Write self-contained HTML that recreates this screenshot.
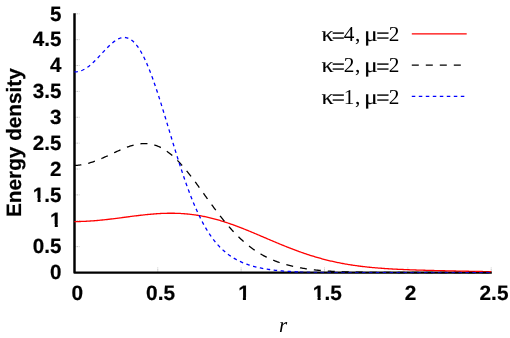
<!DOCTYPE html>
<html><head><meta charset="utf-8"><title>Energy density</title>
<style>
html,body{margin:0;padding:0;background:#fff;}
body{width:510px;height:338px;overflow:hidden;}
svg{display:block;text-rendering:geometricPrecision;will-change:transform;}
.sb{font-family:"Liberation Sans",sans-serif;font-weight:bold;fill:#000;stroke:#000;stroke-width:0.2px;}
.se{font-family:"Liberation Serif",serif;fill:#000;}
</style></head><body>
<svg width="510" height="338" viewBox="0 0 510 338">
<rect x="0" y="0" width="510" height="338" fill="#fff"/>
<g stroke="#666" stroke-width="0.5" stroke-dasharray="1 0.8" fill="none">
<path d="M75.40,246.63 h4"/>
<path d="M75.40,220.76 h4"/>
<path d="M75.40,194.89 h4"/>
<path d="M75.40,169.02 h4"/>
<path d="M75.40,143.15 h4"/>
<path d="M75.40,117.28 h4"/>
<path d="M75.40,91.41 h4"/>
<path d="M75.40,65.54 h4"/>
<path d="M75.40,39.67 h4"/>
<path d="M75.40,13.80 h4"/>
<path d="M157.76,271.50 v-4"/>
<path d="M241.12,271.50 v-4"/>
<path d="M324.48,271.50 v-4"/>
<path d="M407.84,271.50 v-4"/>
<path d="M491.20,271.50 v-4"/>
</g>
<path d="M74.5,13.2 V272.6 H491.8" fill="none" stroke="#000" stroke-width="2.45" stroke-linejoin="round"/>
<path d="M74.40,221.58 L75.39,221.58 L76.38,221.57 L77.37,221.56 L78.36,221.54 L79.35,221.52 L80.34,221.50 L81.33,221.47 L82.32,221.43 L83.31,221.40 L84.30,221.35 L85.29,221.31 L86.28,221.26 L87.27,221.21 L88.26,221.15 L89.25,221.09 L90.24,221.02 L91.23,220.96 L92.22,220.89 L93.21,220.81 L94.20,220.74 L95.19,220.66 L96.18,220.57 L97.17,220.49 L98.16,220.40 L99.15,220.31 L100.14,220.21 L101.13,220.11 L102.12,220.02 L103.11,219.91 L104.10,219.81 L105.09,219.70 L106.08,219.59 L107.07,219.48 L108.06,219.37 L109.05,219.26 L110.04,219.14 L111.03,219.02 L112.02,218.90 L113.01,218.78 L114.00,218.66 L114.99,218.54 L115.98,218.41 L116.97,218.29 L117.96,218.16 L118.95,218.03 L119.94,217.90 L120.93,217.77 L121.92,217.64 L122.91,217.51 L123.90,217.38 L124.89,217.25 L125.88,217.12 L126.87,216.99 L127.86,216.87 L128.85,216.74 L129.84,216.61 L130.83,216.48 L131.82,216.35 L132.81,216.22 L133.80,216.10 L134.79,215.97 L135.78,215.85 L136.77,215.73 L137.76,215.61 L138.75,215.49 L139.74,215.37 L140.73,215.26 L141.72,215.14 L142.71,215.03 L143.70,214.92 L144.69,214.81 L145.68,214.71 L146.67,214.61 L147.66,214.51 L148.65,214.41 L149.64,214.32 L150.63,214.23 L151.62,214.14 L152.61,214.06 L153.60,213.98 L154.59,213.90 L155.58,213.83 L156.57,213.76 L157.56,213.69 L158.55,213.63 L159.54,213.57 L160.53,213.52 L161.52,213.47 L162.51,213.42 L163.50,213.38 L164.49,213.35 L165.48,213.32 L166.47,213.29 L167.46,213.27 L168.45,213.25 L169.44,213.24 L170.43,213.23 L171.42,213.23 L172.41,213.24 L173.40,213.25 L174.39,213.26 L175.38,213.28 L176.37,213.31 L177.36,213.34 L178.35,213.38 L179.34,213.42 L180.33,213.47 L181.32,213.53 L182.31,213.59 L183.30,213.65 L184.29,213.73 L185.28,213.81 L186.27,213.89 L187.26,213.98 L188.25,214.08 L189.24,214.18 L190.23,214.29 L191.22,214.41 L192.21,214.53 L193.20,214.66 L194.19,214.80 L195.18,214.94 L196.17,215.09 L197.16,215.24 L198.15,215.40 L199.14,215.57 L200.13,215.74 L201.12,215.92 L202.11,216.11 L203.10,216.30 L204.09,216.49 L205.08,216.70 L206.07,216.91 L207.06,217.13 L208.05,217.35 L209.04,217.58 L210.03,217.81 L211.02,218.05 L212.01,218.30 L213.00,218.55 L213.99,218.81 L214.98,219.07 L215.97,219.34 L216.96,219.62 L217.95,219.90 L218.94,220.19 L219.93,220.48 L220.92,220.78 L221.91,221.08 L222.90,221.39 L223.89,221.70 L224.88,222.02 L225.87,222.34 L226.86,222.67 L227.85,223.00 L228.84,223.33 L229.83,223.68 L230.82,224.02 L231.81,224.37 L232.80,224.73 L233.79,225.08 L234.78,225.45 L235.77,225.81 L236.76,226.18 L237.75,226.55 L238.74,226.93 L239.73,227.31 L240.72,227.70 L241.71,228.08 L242.70,228.47 L243.69,228.86 L244.68,229.26 L245.67,229.66 L246.66,230.06 L247.65,230.46 L248.64,230.87 L249.63,231.27 L250.62,231.68 L251.61,232.09 L252.60,232.51 L253.59,232.92 L254.58,233.34 L255.57,233.75 L256.56,234.17 L257.55,234.59 L258.54,235.01 L259.53,235.43 L260.52,235.85 L261.51,236.28 L262.50,236.70 L263.49,237.12 L264.48,237.55 L265.47,237.97 L266.46,238.39 L267.45,238.82 L268.44,239.24 L269.43,239.66 L270.42,240.08 L271.41,240.50 L272.40,240.92 L273.39,241.34 L274.38,241.76 L275.37,242.18 L276.36,242.59 L277.35,243.00 L278.34,243.42 L279.33,243.83 L280.32,244.24 L281.31,244.64 L282.30,245.05 L283.30,245.45 L284.29,245.85 L285.28,246.25 L286.27,246.65 L287.26,247.04 L288.25,247.44 L289.24,247.82 L290.23,248.21 L291.22,248.59 L292.21,248.97 L293.20,249.35 L294.19,249.73 L295.18,250.10 L296.17,250.47 L297.16,250.83 L298.15,251.19 L299.14,251.55 L300.13,251.91 L301.12,252.26 L302.11,252.61 L303.10,252.95 L304.09,253.29 L305.08,253.63 L306.07,253.96 L307.06,254.29 L308.05,254.62 L309.04,254.94 L310.03,255.26 L311.02,255.57 L312.01,255.88 L313.00,256.19 L313.99,256.49 L314.98,256.79 L315.97,257.08 L316.96,257.37 L317.95,257.66 L318.94,257.94 L319.93,258.22 L320.92,258.49 L321.91,258.76 L322.90,259.03 L323.89,259.29 L324.88,259.55 L325.87,259.80 L326.86,260.05 L327.85,260.30 L328.84,260.54 L329.83,260.77 L330.82,261.01 L331.81,261.24 L332.80,261.46 L333.79,261.68 L334.78,261.90 L335.77,262.11 L336.76,262.32 L337.75,262.53 L338.74,262.73 L339.73,262.92 L340.72,263.12 L341.71,263.31 L342.70,263.49 L343.69,263.68 L344.68,263.85 L345.67,264.03 L346.66,264.20 L347.65,264.37 L348.64,264.53 L349.63,264.69 L350.62,264.85 L351.61,265.00 L352.60,265.15 L353.59,265.30 L354.58,265.45 L355.57,265.59 L356.56,265.72 L357.55,265.86 L358.54,265.99 L359.53,266.12 L360.52,266.24 L361.51,266.36 L362.50,266.48 L363.49,266.60 L364.48,266.71 L365.47,266.83 L366.46,266.93 L367.45,267.04 L368.44,267.14 L369.43,267.24 L370.42,267.34 L371.41,267.44 L372.40,267.53 L373.39,267.62 L374.38,267.71 L375.37,267.80 L376.36,267.88 L377.35,267.96 L378.34,268.04 L379.33,268.12 L380.32,268.20 L381.31,268.27 L382.30,268.34 L383.29,268.42 L384.28,268.48 L385.27,268.55 L386.26,268.62 L387.25,268.68 L388.24,268.74 L389.23,268.80 L390.22,268.86 L391.21,268.92 L392.20,268.98 L393.19,269.03 L394.18,269.08 L395.17,269.14 L396.16,269.19 L397.15,269.24 L398.14,269.29 L399.13,269.33 L400.12,269.38 L401.11,269.42 L402.10,269.47 L403.09,269.51 L404.08,269.55 L405.07,269.59 L406.06,269.63 L407.05,269.67 L408.04,269.71 L409.03,269.75 L410.02,269.79 L411.01,269.82 L412.00,269.86 L412.99,269.89 L413.98,269.93 L414.97,269.96 L415.96,270.00 L416.95,270.03 L417.94,270.06 L418.93,270.09 L419.92,270.12 L420.91,270.15 L421.90,270.18 L422.89,270.21 L423.88,270.24 L424.87,270.27 L425.86,270.30 L426.85,270.32 L427.84,270.35 L428.83,270.38 L429.82,270.40 L430.81,270.43 L431.80,270.46 L432.79,270.48 L433.78,270.51 L434.77,270.53 L435.76,270.56 L436.75,270.58 L437.74,270.61 L438.73,270.63 L439.72,270.65 L440.71,270.68 L441.70,270.70 L442.69,270.72 L443.68,270.75 L444.67,270.77 L445.66,270.79 L446.65,270.81 L447.64,270.84 L448.63,270.86 L449.62,270.88 L450.61,270.90 L451.60,270.92 L452.59,270.94 L453.58,270.97 L454.57,270.99 L455.56,271.01 L456.55,271.03 L457.54,271.05 L458.53,271.07 L459.52,271.09 L460.51,271.11 L461.50,271.13 L462.49,271.15 L463.48,271.17 L464.47,271.19 L465.46,271.21 L466.45,271.23 L467.44,271.25 L468.43,271.27 L469.42,271.28 L470.41,271.30 L471.40,271.32 L472.39,271.34 L473.38,271.36 L474.37,271.38 L475.36,271.39 L476.35,271.41 L477.34,271.43 L478.33,271.45 L479.32,271.47 L480.31,271.48 L481.30,271.50 L482.29,271.52 L483.28,271.53 L484.27,271.55 L485.26,271.57 L486.25,271.58 L487.24,271.60 L488.23,271.62 L489.22,271.63 L490.21,271.65 L491.20,271.66" fill="none" stroke="#ff0000" stroke-width="1.3"/>
<path d="M74.40,165.39 L75.39,165.38 L76.38,165.34 L77.37,165.28 L78.36,165.19 L79.35,165.09 L80.34,164.96 L81.33,164.82 L82.32,164.65 L83.31,164.47 L84.30,164.27 L85.29,164.05 L86.28,163.82 L87.27,163.57 L88.26,163.31 L89.25,163.03 L90.24,162.73 L91.23,162.43 L92.22,162.11 L93.21,161.77 L94.20,161.42 L95.19,161.07 L96.18,160.70 L97.17,160.32 L98.16,159.92 L99.15,159.52 L100.14,159.12 L101.13,158.70 L102.12,158.27 L103.11,157.84 L104.10,157.40 L105.09,156.96 L106.08,156.51 L107.07,156.05 L108.06,155.60 L109.05,155.13 L110.04,154.67 L111.03,154.21 L112.02,153.74 L113.01,153.28 L114.00,152.81 L114.99,152.35 L115.98,151.89 L116.97,151.44 L117.96,150.98 L118.95,150.54 L119.94,150.10 L120.93,149.66 L121.92,149.24 L122.91,148.82 L123.90,148.41 L124.89,148.01 L125.88,147.63 L126.87,147.25 L127.86,146.89 L128.85,146.54 L129.84,146.21 L130.83,145.89 L131.82,145.59 L132.81,145.31 L133.80,145.04 L134.79,144.80 L135.78,144.57 L136.77,144.37 L137.76,144.18 L138.75,144.02 L139.74,143.89 L140.73,143.77 L141.72,143.68 L142.71,143.62 L143.70,143.58 L144.69,143.57 L145.68,143.59 L146.67,143.63 L147.66,143.70 L148.65,143.81 L149.64,143.94 L150.63,144.10 L151.62,144.29 L152.61,144.51 L153.60,144.77 L154.59,145.05 L155.58,145.37 L156.57,145.72 L157.56,146.10 L158.55,146.51 L159.54,146.95 L160.53,147.43 L161.52,147.94 L162.51,148.48 L163.50,149.06 L164.49,149.66 L165.48,150.30 L166.47,150.97 L167.46,151.68 L168.45,152.41 L169.44,153.17 L170.43,153.97 L171.42,154.79 L172.41,155.65 L173.40,156.53 L174.39,157.44 L175.38,158.38 L176.37,159.35 L177.36,160.34 L178.35,161.36 L179.34,162.41 L180.33,163.48 L181.32,164.57 L182.31,165.69 L183.30,166.83 L184.29,167.99 L185.28,169.17 L186.27,170.37 L187.26,171.59 L188.25,172.82 L189.24,174.07 L190.23,175.34 L191.22,176.62 L192.21,177.92 L193.20,179.23 L194.19,180.55 L195.18,181.88 L196.17,183.22 L197.16,184.57 L198.15,185.92 L199.14,187.28 L200.13,188.65 L201.12,190.02 L202.11,191.40 L203.10,192.77 L204.09,194.15 L205.08,195.53 L206.07,196.91 L207.06,198.28 L208.05,199.66 L209.04,201.03 L210.03,202.39 L211.02,203.75 L212.01,205.11 L213.00,206.46 L213.99,207.80 L214.98,209.13 L215.97,210.45 L216.96,211.76 L217.95,213.06 L218.94,214.35 L219.93,215.63 L220.92,216.90 L221.91,218.15 L222.90,219.39 L223.89,220.62 L224.88,221.83 L225.87,223.02 L226.86,224.20 L227.85,225.37 L228.84,226.51 L229.83,227.65 L230.82,228.76 L231.81,229.86 L232.80,230.94 L233.79,232.00 L234.78,233.04 L235.77,234.07 L236.76,235.08 L237.75,236.07 L238.74,237.04 L239.73,238.00 L240.72,238.93 L241.71,239.85 L242.70,240.75 L243.69,241.63 L244.68,242.49 L245.67,243.33 L246.66,244.16 L247.65,244.96 L248.64,245.75 L249.63,246.53 L250.62,247.28 L251.61,248.02 L252.60,248.74 L253.59,249.44 L254.58,250.12 L255.57,250.79 L256.56,251.45 L257.55,252.08 L258.54,252.70 L259.53,253.31 L260.52,253.90 L261.51,254.47 L262.50,255.03 L263.49,255.57 L264.48,256.10 L265.47,256.62 L266.46,257.12 L267.45,257.61 L268.44,258.08 L269.43,258.55 L270.42,258.99 L271.41,259.43 L272.40,259.86 L273.39,260.27 L274.38,260.67 L275.37,261.06 L276.36,261.44 L277.35,261.80 L278.34,262.16 L279.33,262.51 L280.32,262.84 L281.31,263.17 L282.30,263.49 L283.30,263.79 L284.29,264.09 L285.28,264.38 L286.27,264.66 L287.26,264.94 L288.25,265.20 L289.24,265.46 L290.23,265.71 L291.22,265.95 L292.21,266.18 L293.20,266.41 L294.19,266.63 L295.18,266.84 L296.17,267.05 L297.16,267.25 L298.15,267.44 L299.14,267.63 L300.13,267.81 L301.12,267.98 L302.11,268.15 L303.10,268.32 L304.09,268.48 L305.08,268.63 L306.07,268.78 L307.06,268.93 L308.05,269.06 L309.04,269.20 L310.03,269.33 L311.02,269.46 L312.01,269.58 L313.00,269.70 L313.99,269.81 L314.98,269.92 L315.97,270.03 L316.96,270.13 L317.95,270.23 L318.94,270.32 L319.93,270.41 L320.92,270.50 L321.91,270.59 L322.90,270.67 L323.89,270.75 L324.88,270.83 L325.87,270.90 L326.86,270.97 L327.85,271.04 L328.84,271.10 L329.83,271.17 L330.82,271.23 L331.81,271.29 L332.80,271.34 L333.79,271.40 L334.78,271.45 L335.77,271.50 L336.76,271.55 L337.75,271.59 L338.74,271.64 L339.73,271.68 L340.72,271.72 L341.71,271.76 L342.70,271.79 L343.69,271.83 L344.68,271.86 L345.67,271.90 L346.66,271.93 L347.65,271.96 L348.64,271.98 L349.63,272.01 L350.62,272.04 L351.61,272.06 L352.60,272.08 L353.59,272.11 L354.58,272.13 L355.57,272.15 L356.56,272.17 L357.55,272.19 L358.54,272.20 L359.53,272.22 L360.52,272.24 L361.51,272.25 L362.50,272.27 L363.49,272.28 L364.48,272.29 L365.47,272.30 L366.46,272.32 L367.45,272.33 L368.44,272.34 L369.43,272.35 L370.42,272.36 L371.41,272.36 L372.40,272.37 L373.39,272.38 L374.38,272.39 L375.37,272.39 L376.36,272.40 L377.35,272.41 L378.34,272.41 L379.33,272.42 L380.32,272.42 L381.31,272.43 L382.30,272.43 L383.29,272.44 L384.28,272.44 L385.27,272.45 L386.26,272.45 L387.25,272.45 L388.24,272.46 L389.23,272.46 L390.22,272.46 L391.21,272.46 L392.20,272.47 L393.19,272.47 L394.18,272.47 L395.17,272.47 L396.16,272.48 L397.15,272.48 L398.14,272.48 L399.13,272.48 L400.12,272.48 L401.11,272.48 L402.10,272.48 L403.09,272.49 L404.08,272.49 L405.07,272.49 L406.06,272.49 L407.05,272.49 L408.04,272.49 L409.03,272.49 L410.02,272.49 L411.01,272.49 L412.00,272.49 L412.99,272.49 L413.98,272.49 L414.97,272.49 L415.96,272.49 L416.95,272.50 L417.94,272.50 L418.93,272.50 L419.92,272.50 L420.91,272.50 L421.90,272.50 L422.89,272.50 L423.88,272.50 L424.87,272.50 L425.86,272.50 L426.85,272.50 L427.84,272.50 L428.83,272.50 L429.82,272.50 L430.81,272.50 L431.80,272.50 L432.79,272.50 L433.78,272.50 L434.77,272.50 L435.76,272.50 L436.75,272.50 L437.74,272.50 L438.73,272.50 L439.72,272.50 L440.71,272.50 L441.70,272.50 L442.69,272.50 L443.68,272.50 L444.67,272.50 L445.66,272.50 L446.65,272.50 L447.64,272.50 L448.63,272.50 L449.62,272.50 L450.61,272.50 L451.60,272.50 L452.59,272.50 L453.58,272.50 L454.57,272.50 L455.56,272.50 L456.55,272.50 L457.54,272.50 L458.53,272.50 L459.52,272.50 L460.51,272.50 L461.50,272.50 L462.49,272.50 L463.48,272.50 L464.47,272.50 L465.46,272.50 L466.45,272.50 L467.44,272.50 L468.43,272.50 L469.42,272.50 L470.41,272.50 L471.40,272.50 L472.39,272.50 L473.38,272.50 L474.37,272.50 L475.36,272.50 L476.35,272.50 L477.34,272.50 L478.33,272.50 L479.32,272.50 L480.31,272.50 L481.30,272.50 L482.29,272.50 L483.28,272.50 L484.27,272.50 L485.26,272.50 L486.25,272.50 L487.24,272.50 L488.23,272.50 L489.22,272.50 L490.21,272.50 L491.20,272.50" fill="none" stroke="#000" stroke-width="1.3" stroke-dasharray="7 7"/>
<path d="M74.40,71.92 L75.39,71.90 L76.38,71.83 L77.37,71.70 L78.36,71.52 L79.35,71.29 L80.33,70.99 L81.32,70.64 L82.31,70.24 L83.30,69.78 L84.29,69.26 L85.28,68.69 L86.27,68.08 L87.26,67.41 L88.25,66.69 L89.24,65.93 L90.22,65.13 L91.21,64.28 L92.20,63.40 L93.19,62.48 L94.18,61.53 L95.17,60.55 L96.16,59.55 L97.15,58.53 L98.14,57.49 L99.13,56.43 L100.11,55.36 L101.10,54.29 L102.09,53.21 L103.08,52.14 L104.07,51.07 L105.06,50.01 L106.05,48.96 L107.04,47.94 L108.03,46.93 L109.02,45.96 L110.01,45.01 L110.99,44.10 L111.98,43.24 L112.97,42.41 L113.96,41.64 L114.95,40.92 L115.94,40.25 L116.93,39.65 L117.92,39.12 L118.91,38.65 L119.90,38.25 L120.88,37.93 L121.87,37.69 L122.86,37.54 L123.85,37.47 L124.84,37.48 L125.83,37.59 L126.82,37.79 L127.81,38.09 L128.80,38.49 L129.79,38.98 L130.78,39.58 L131.76,40.28 L132.75,41.08 L133.74,41.99 L134.73,43.00 L135.72,44.11 L136.71,45.33 L137.70,46.65 L138.69,48.08 L139.68,49.61 L140.67,51.25 L141.65,52.98 L142.64,54.81 L143.63,56.74 L144.62,58.77 L145.61,60.88 L146.60,63.09 L147.59,65.39 L148.58,67.77 L149.57,70.23 L150.56,72.77 L151.54,75.39 L152.53,78.08 L153.52,80.84 L154.51,83.66 L155.50,86.54 L156.49,89.48 L157.48,92.47 L158.47,95.51 L159.46,98.59 L160.45,101.71 L161.44,104.87 L162.42,108.06 L163.41,111.28 L164.40,114.52 L165.39,117.77 L166.38,121.04 L167.37,124.33 L168.36,127.61 L169.35,130.90 L170.34,134.19 L171.33,137.47 L172.31,140.74 L173.30,143.99 L174.29,147.23 L175.28,150.45 L176.27,153.65 L177.26,156.82 L178.25,159.96 L179.24,163.06 L180.23,166.13 L181.22,169.17 L182.20,172.16 L183.19,175.11 L184.18,178.01 L185.17,180.87 L186.16,183.68 L187.15,186.44 L188.14,189.15 L189.13,191.81 L190.12,194.41 L191.11,196.96 L192.10,199.45 L193.08,201.88 L194.07,204.26 L195.06,206.58 L196.05,208.85 L197.04,211.05 L198.03,213.20 L199.02,215.29 L200.01,217.33 L201.00,219.30 L201.99,221.22 L202.97,223.09 L203.96,224.90 L204.95,226.65 L205.94,228.35 L206.93,229.99 L207.92,231.58 L208.91,233.12 L209.90,234.61 L210.89,236.05 L211.88,237.45 L212.86,238.79 L213.85,240.09 L214.84,241.34 L215.83,242.55 L216.82,243.71 L217.81,244.83 L218.80,245.91 L219.79,246.96 L220.78,247.96 L221.77,248.93 L222.76,249.86 L223.74,250.75 L224.73,251.61 L225.72,252.44 L226.71,253.24 L227.70,254.01 L228.69,254.75 L229.68,255.45 L230.67,256.14 L231.66,256.79 L232.65,257.42 L233.63,258.03 L234.62,258.61 L235.61,259.17 L236.60,259.71 L237.59,260.23 L238.58,260.73 L239.57,261.21 L240.56,261.67 L241.55,262.11 L242.54,262.54 L243.53,262.95 L244.51,263.34 L245.50,263.72 L246.49,264.09 L247.48,264.44 L248.47,264.77 L249.46,265.10 L250.45,265.41 L251.44,265.71 L252.43,266.00 L253.42,266.28 L254.40,266.54 L255.39,266.80 L256.38,267.05 L257.37,267.28 L258.36,267.51 L259.35,267.73 L260.34,267.94 L261.33,268.15 L262.32,268.34 L263.31,268.53 L264.29,268.71 L265.28,268.88 L266.27,269.05 L267.26,269.21 L268.25,269.36 L269.24,269.51 L270.23,269.65 L271.22,269.79 L272.21,269.92 L273.20,270.04 L274.19,270.16 L275.17,270.28 L276.16,270.39 L277.15,270.49 L278.14,270.59 L279.13,270.69 L280.12,270.78 L281.11,270.87 L282.10,270.95 L283.09,271.03 L284.08,271.11 L285.06,271.19 L286.05,271.26 L287.04,271.32 L288.03,271.39 L289.02,271.45 L290.01,271.51 L291.00,271.56 L291.99,271.61 L292.98,271.66 L293.97,271.71 L294.95,271.76 L295.94,271.80 L296.93,271.84 L297.92,271.88 L298.91,271.92 L299.90,271.95" fill="none" stroke="#0000ff" stroke-width="1.3" stroke-dasharray="3.5 3.5"/>
<path d="M299.90,271.95 L300.89,271.98 L301.88,272.02 L302.87,272.05 L303.86,272.07 L304.85,272.10 L305.84,272.12 L306.82,272.15 L307.81,272.17 L308.80,272.19 L309.79,272.21 L310.78,272.23 L311.77,272.25 L312.76,272.26 L313.75,272.28 L314.74,272.30 L315.73,272.31 L316.72,272.32 L317.71,272.33 L318.69,272.35 L319.68,272.36 L320.67,272.37 L321.66,272.38 L322.65,272.38 L323.64,272.39 L324.63,272.40 L325.62,272.41 L326.61,272.41 L327.60,272.42 L328.59,272.43 L329.58,272.43 L330.56,272.44 L331.55,272.44 L332.54,272.45 L333.53,272.45 L334.52,272.45 L335.51,272.46 L336.50,272.46 L337.49,272.46 L338.48,272.47 L339.47,272.47 L340.46,272.47 L341.45,272.47 L342.43,272.48 L343.42,272.48 L344.41,272.48 L345.40,272.48 L346.39,272.48 L347.38,272.48 L348.37,272.49 L349.36,272.49 L350.35,272.49 L351.34,272.49 L352.33,272.49 L353.32,272.49 L354.30,272.49 L355.29,272.49 L356.28,272.49 L357.27,272.49 L358.26,272.49 L359.25,272.49 L360.24,272.50 L361.23,272.50 L362.22,272.50 L363.21,272.50 L364.20,272.50 L365.19,272.50 L366.17,272.50 L367.16,272.50 L368.15,272.50 L369.14,272.50 L370.13,272.50 L371.12,272.50 L372.11,272.50 L373.10,272.50 L374.09,272.50 L375.08,272.50 L376.07,272.50 L377.06,272.50 L378.04,272.50 L379.03,272.50 L380.02,272.50 L381.01,272.50 L382.00,272.50 L382.99,272.50 L383.98,272.50 L384.97,272.50 L385.96,272.50 L386.95,272.50 L387.94,272.50 L388.93,272.50 L389.91,272.50 L390.90,272.50 L391.89,272.50 L392.88,272.50 L393.87,272.50 L394.86,272.50 L395.85,272.50 L396.84,272.50 L397.83,272.50 L398.82,272.50 L399.81,272.50 L400.80,272.50 L401.79,272.50 L402.77,272.50 L403.76,272.50 L404.75,272.50 L405.74,272.50 L406.73,272.50 L407.72,272.50 L408.71,272.50 L409.70,272.50 L410.69,272.50 L411.68,272.50 L412.67,272.50 L413.66,272.50 L414.64,272.50 L415.63,272.50 L416.62,272.50 L417.61,272.50 L418.60,272.50 L419.59,272.50 L420.58,272.50 L421.57,272.50 L422.56,272.50 L423.55,272.50 L424.54,272.50 L425.53,272.50 L426.51,272.50 L427.50,272.50 L428.49,272.50 L429.48,272.50 L430.47,272.50 L431.46,272.50 L432.45,272.50 L433.44,272.50 L434.43,272.50 L435.42,272.50 L436.41,272.50 L437.40,272.50 L438.38,272.50 L439.37,272.50 L440.36,272.50 L441.35,272.50 L442.34,272.50 L443.33,272.50 L444.32,272.50 L445.31,272.50 L446.30,272.50 L447.29,272.50 L448.28,272.50 L449.27,272.50 L450.25,272.50 L451.24,272.50 L452.23,272.50 L453.22,272.50 L454.21,272.50 L455.20,272.50 L456.19,272.50 L457.18,272.50 L458.17,272.50 L459.16,272.50 L460.15,272.50 L461.14,272.50 L462.12,272.50 L463.11,272.50 L464.10,272.50 L465.09,272.50 L466.08,272.50 L467.07,272.50 L468.06,272.50 L469.05,272.50 L470.04,272.50 L471.03,272.50 L472.02,272.50 L473.01,272.50 L473.99,272.50 L474.98,272.50 L475.97,272.50 L476.96,272.50 L477.95,272.50 L478.94,272.50 L479.93,272.50 L480.92,272.50 L481.91,272.50 L482.90,272.50 L483.89,272.50 L484.88,272.50 L485.86,272.50 L486.85,272.50 L487.84,272.50 L488.83,272.50 L489.82,272.50 L490.81,272.50 L491.80,272.50" fill="none" stroke="#0000d8" stroke-width="1.0" stroke-dasharray="3.45 3.45"/>
<g class="sb" font-size="20.6" text-anchor="end">
<text x="61.5" y="279.20">0</text>
<text x="61.5" y="253.33">0.5</text>
<text x="61.5" y="227.46">1</text>
<text x="61.5" y="201.59">1.5</text>
<text x="61.5" y="175.72">2</text>
<text x="61.5" y="149.85">2.5</text>
<text x="61.5" y="123.98">3</text>
<text x="61.5" y="98.11">3.5</text>
<text x="61.5" y="72.24">4</text>
<text x="61.5" y="46.37">4.5</text>
<text x="61.5" y="20.50">5</text>
</g>
<g class="sb" font-size="20.8" text-anchor="middle">
<text x="77.20" y="300.1">0</text>
<text x="160.56" y="300.1">0.5</text>
<text x="243.92" y="300.1">1</text>
<text x="327.28" y="300.1">1.5</text>
<text x="410.64" y="300.1">2</text>
<text x="494.00" y="300.1">2.5</text>
</g>
<rect x="50" y="224" width="4.75" height="5" fill="#fff"/><rect x="57.78" y="224" width="4.22" height="5" fill="#fff"/>
<rect x="33" y="198" width="4.57" height="5" fill="#fff"/><rect x="40.60" y="198" width="4.40" height="5" fill="#fff"/>
<rect x="238" y="297" width="4.89" height="4" fill="#fff"/><rect x="245.94" y="297" width="4.06" height="4" fill="#fff"/>
<rect x="313" y="297" width="4.58" height="4" fill="#fff"/><rect x="320.63" y="297" width="4.37" height="4" fill="#fff"/>
<text class="sb" font-size="20.75" text-anchor="middle" transform="translate(20.6,142.6) rotate(-90)">Energy density</text>
<text class="se" font-style="italic" font-size="21" text-anchor="middle" x="283.0" y="332">r</text>
<g class="se" font-size="21.3">
<g transform="translate(0,41)"><text transform="translate(321.45,0.00) scale(1.13,1)" stroke="#000" stroke-width="0.15">κ</text><text transform="translate(331.71,2.60) scale(1.09,1.19)" stroke="#000" stroke-width="0.2">=</text><text transform="translate(343.85,0.00)">4</text><text transform="translate(354.90,0.00)">,</text><text transform="translate(364.06,0.00) scale(1.2,1)" stroke="#000" stroke-width="0.15">μ</text><text transform="translate(376.21,2.60) scale(1.1,1.19)" stroke="#000" stroke-width="0.2">=</text><text transform="translate(388.83,0.00)">2</text></g>
<g transform="translate(0,72.3)"><text transform="translate(321.45,0.00) scale(1.13,1)" stroke="#000" stroke-width="0.15">κ</text><text transform="translate(331.71,2.60) scale(1.09,1.19)" stroke="#000" stroke-width="0.2">=</text><text transform="translate(343.85,0.00)">2</text><text transform="translate(354.90,0.00)">,</text><text transform="translate(364.06,0.00) scale(1.2,1)" stroke="#000" stroke-width="0.15">μ</text><text transform="translate(376.21,2.60) scale(1.1,1.19)" stroke="#000" stroke-width="0.2">=</text><text transform="translate(388.83,0.00)">2</text></g>
<g transform="translate(0,103.6)"><text transform="translate(321.45,0.00) scale(1.13,1)" stroke="#000" stroke-width="0.15">κ</text><text transform="translate(331.71,2.60) scale(1.09,1.19)" stroke="#000" stroke-width="0.2">=</text><text transform="translate(343.85,0.00)">1</text><text transform="translate(354.90,0.00)">,</text><text transform="translate(364.06,0.00) scale(1.2,1)" stroke="#000" stroke-width="0.15">μ</text><text transform="translate(376.21,2.60) scale(1.1,1.19)" stroke="#000" stroke-width="0.2">=</text><text transform="translate(388.83,0.00)">2</text></g>
</g>
<path d="M411.8,33.8 H466.7" stroke="#ff0000" stroke-width="1.3" fill="none"/>
<path d="M411.8,65.1 H466.7" stroke="#000" stroke-width="1.3" stroke-dasharray="7 7" fill="none"/>
<path d="M411.8,96.4 H466.7" stroke="#0000ff" stroke-width="1.3" stroke-dasharray="3.5 3.5" fill="none"/>
</svg></body></html>
